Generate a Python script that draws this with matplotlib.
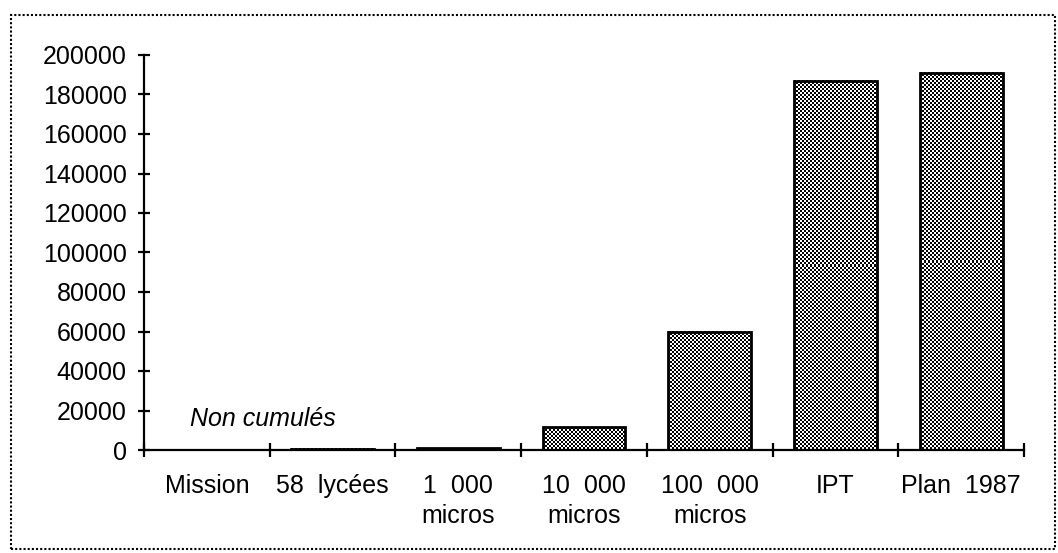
import numpy as np
import matplotlib
matplotlib.use("Agg")
import matplotlib.pyplot as plt
from matplotlib.patches import Rectangle

categories = ["Mission", "58  lycées", "1  000\nmicros", "10  000\nmicros",
              "100  000\nmicros", "IPT", "Plan  1987"]
values = [0, 600, 1000, 11500, 60000, 187000, 191000]
yticks = [0, 20000, 40000, 60000, 80000, 100000, 120000, 140000, 160000, 180000, 200000]
note = "Non cumulés"

plt.rcParams['font.family'] = ['Liberation Sans', 'DejaVu Sans']

W, H = 1058, 553
FS = 18
fig = plt.figure(figsize=(W / 100, H / 100), dpi=100)
ax = fig.add_axes([144 / W, 1 - 450 / H, (1024 - 144) / W, (450 - 55) / H])

x = np.arange(len(categories))
bars = ax.bar(x, values, width=0.66, facecolor='none', edgecolor='black',
              linewidth=2.0, zorder=3)
ax.set_xlim(-0.5, len(categories) - 0.5)
ax.set_ylim(0, 200000)

# checkerboard fill for each bar
fig.canvas.draw()
for b in bars:
    h = b.get_height()
    if h <= 0:
        continue
    x0, w = b.get_x(), b.get_width()
    bb = b.get_window_extent()
    wp = max(int(round(bb.width)), 2)
    hp = max(int(round(bb.height)), 2)
    yy, xx = np.mgrid[0:hp, 0:wp]
    chk = ((xx // 2 + yy // 2) % 2).astype(float)
    ax.imshow(chk, extent=(x0, x0 + w, 0, h), cmap='gray', vmin=0, vmax=1,
              interpolation='nearest', aspect='auto', zorder=2)
ax.set_xlim(-0.5, len(categories) - 0.5)
ax.set_ylim(0, 200000)
ax.set_aspect('auto')

for s in ['top', 'right']:
    ax.spines[s].set_visible(False)
for s in ['left', 'bottom']:
    ax.spines[s].set_linewidth(1.6)
    ax.spines[s].set_zorder(4)

ax.set_yticks(yticks)
ax.set_yticklabels([str(v) for v in yticks])
ax.tick_params(axis='y', direction='inout', length=9, width=1.6, pad=8,
               labelsize=FS)

ax.set_xticks(np.arange(-0.5, len(categories)), minor=False)
ax.set_xticklabels([])
ax.tick_params(axis='x', which='major', direction='inout', length=10, width=1.6)
ax.set_xticks(x, minor=True)
ax.set_xticklabels(categories, minor=True, linespacing=1.35)
ax.tick_params(axis='x', which='minor', length=0, pad=17, labelsize=FS)

ax.text(-0.134, 15600, note, style='italic', fontsize=FS, va='center', ha='left')

border = Rectangle((11 / W, 1 - 549 / H), (1055 - 11) / W, (549 - 15) / H,
                   transform=fig.transFigure, fill=False, edgecolor='black',
                   linewidth=1.5, linestyle=(0, (1, 1)), clip_on=False)
fig.patches.append(border)

fig.savefig("out.png", dpi=100)
